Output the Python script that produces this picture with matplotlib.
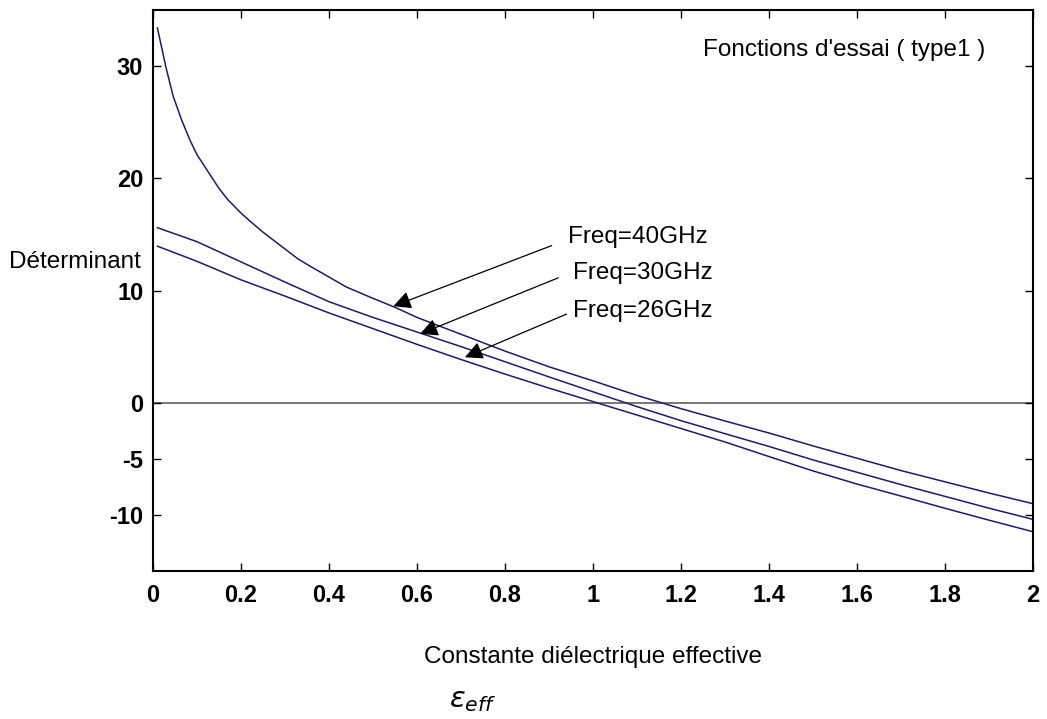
import matplotlib
matplotlib.use("Agg")
import matplotlib.pyplot as plt

# ---- data ----
x_40 = [0.01, 0.02, 0.03, 0.046, 0.065, 0.084, 0.10, 0.13, 0.15, 0.17, 0.20, 0.22,
        0.25, 0.28, 0.33, 0.36, 0.40, 0.44, 0.50, 0.55, 0.60, 0.70, 0.80, 0.90,
        1.00, 1.10, 1.20, 1.30, 1.40, 1.50, 1.60, 1.70, 1.80, 1.90, 2.00]
y_40 = [33.4, 31.6, 29.8, 27.3, 25.2, 23.4, 22.1, 20.3, 19.1, 18.1, 16.9, 16.2,
        15.2, 14.3, 12.8, 12.1, 11.2, 10.3, 9.3, 8.5, 7.6, 6.1, 4.6, 3.2,
        1.95, 0.65, -0.53, -1.63, -2.7, -3.85, -4.95, -6.05, -7.05, -8.05, -9.0]

x_30 = [0.01, 0.10, 0.20, 0.30, 0.40, 0.50, 0.60, 0.70, 0.80, 0.90, 1.00, 1.10,
        1.20, 1.30, 1.40, 1.50, 1.60, 1.70, 1.80, 1.90, 2.00]
y_30 = [15.6, 14.35, 12.55, 10.75, 9.0, 7.6, 6.3, 5.0, 3.65, 2.3, 0.97, -0.35,
        -1.6, -2.76, -3.9, -5.1, -6.2, -7.3, -8.35, -9.4, -10.4]

x_26 = [0.01, 0.10, 0.20, 0.30, 0.40, 0.50, 0.60, 0.70, 0.80, 0.90, 1.00, 1.10,
        1.20, 1.30, 1.40, 1.50, 1.60, 1.70, 1.80, 1.90, 2.00]
y_26 = [13.95, 12.6, 10.95, 9.5, 8.0, 6.6, 5.2, 3.85, 2.55, 1.3, 0.1, -1.1,
        -2.3, -3.5, -4.8, -6.08, -7.25, -8.32, -9.41, -10.47, -11.5]

x_ticks = [0, 0.2, 0.4, 0.6, 0.8, 1.0, 1.2, 1.4, 1.6, 1.8, 2.0]
x_ticklabels = ["0", "0.2", "0.4", "0.6", "0.8", "1", "1.2", "1.4", "1.6", "1.8", "2"]
y_ticks = [-10, -5, 0, 10, 20, 30]
y_ticklabels = ["-10", "-5", "0", "10", "20", "30"]

labels = ["Freq=40GHz", "Freq=30GHz", "Freq=26GHz"]

# ---- figure ----
plt.rcParams['font.family'] = ['Liberation Sans', 'DejaVu Sans']
W, H = 1047, 719
fig = plt.figure(figsize=(W / 100, H / 100), dpi=100)
ax = fig.add_axes([153 / W, 1 - 571 / H, (1033 - 153) / W, (571 - 10) / H])

line_color = '#1c1c6c'
ax.axhline(0, color='#606060', lw=1.2, zorder=1)
ax.plot(x_40, y_40, color=line_color, lw=1.1, zorder=2)
ax.plot(x_30, y_30, color=line_color, lw=1.1, zorder=2)
ax.plot(x_26, y_26, color=line_color, lw=1.1, zorder=2)

ax.set_xlim(0, 2)
ax.set_ylim(-15, 35)
ax.set_xticks(x_ticks)
ax.set_xticklabels(x_ticklabels, fontsize=17, fontweight='bold')
ax.set_yticks(y_ticks)
ax.set_yticklabels(y_ticklabels, fontsize=17, fontweight='bold')
ax.tick_params(direction='in', length=6, width=1, top=True, right=True,
               pad=9)
ax.tick_params(axis='y', pad=7)
for s in ax.spines.values():
    s.set_linewidth(1.5)

# annotations
tails = [(0.906, 14.0), (0.921, 11.13), (0.94, 7.9)]
tips = [(0.546, 8.6), (0.607, 6.13), (0.709, 4.05)]
text_pos = [(0.943, 14.76), (0.954, 11.55), (0.954, 8.2)]
for lab, tail, tip, tp in zip(labels, tails, tips, text_pos):
    ax.annotate('', xy=tip, xytext=tail,
                arrowprops=dict(arrowstyle='-|>', color='black', lw=0.9,
                                mutation_scale=27, shrinkA=0, shrinkB=0))
    ax.text(tp[0], tp[1], lab, fontsize=17.5, ha='left', va='center')

ax.text(1.891, 31.4, "Fonctions d'essai ( type1 )", fontsize=17.5,
        ha='right', va='center')

fig.text(141 / W, 1 - 262 / H, "Déterminant", fontsize=17.5,
         ha='right', va='center')
fig.text(593 / W, 1 - 657 / H, "Constante diélectrique effective",
         fontsize=17.5, ha='center', va='center')
fig.text(449 / W, 1 - 700 / H, r"$\varepsilon_{eff}$", fontsize=21,
         ha='left', va='center')

fig.savefig("out.png", dpi=100)
